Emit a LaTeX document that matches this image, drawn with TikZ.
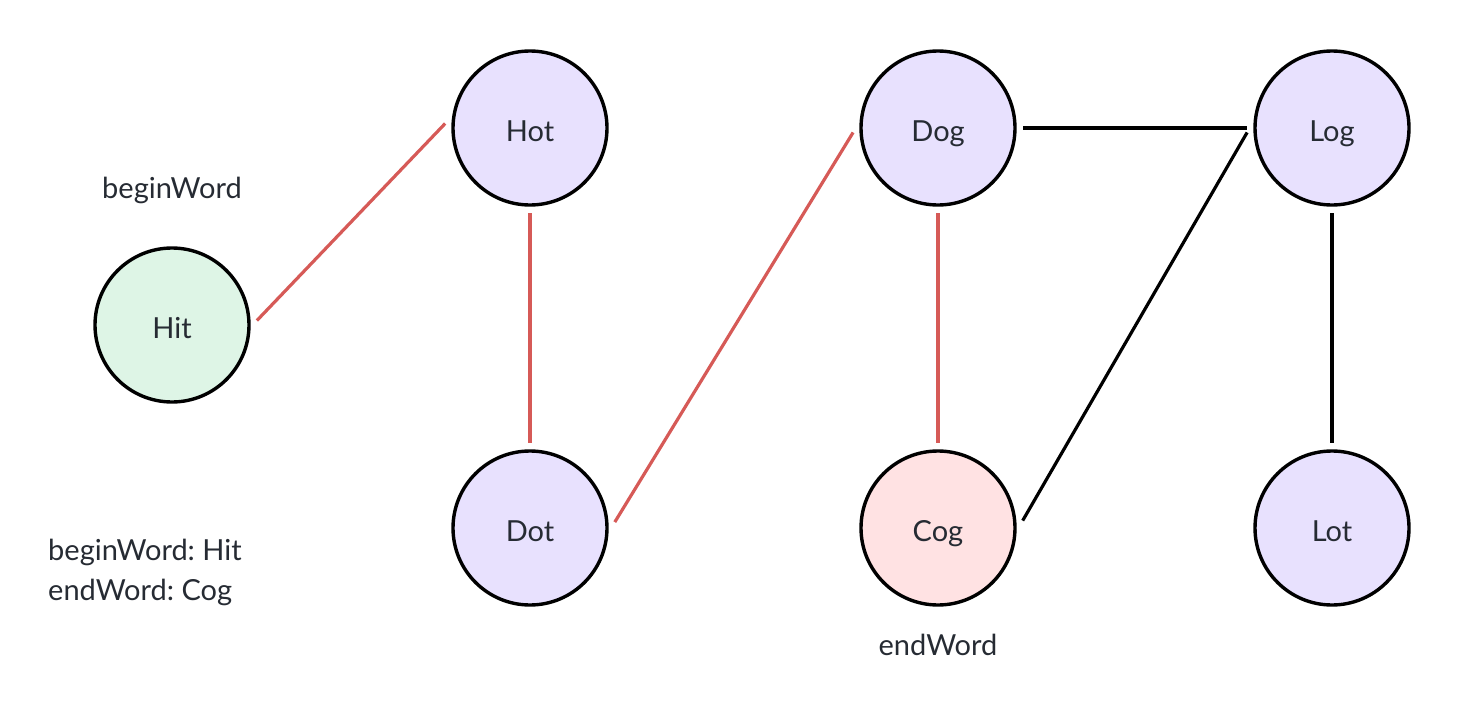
\documentclass[tikz,border=0pt]{standalone}
\usepackage{fontspec}
\setmainfont{Lato}
\definecolor{redline}{HTML}{D65A57}
\definecolor{gfill}{HTML}{DEF5E6}
\definecolor{pfill}{HTML}{E8E1FE}
\definecolor{rfill}{HTML}{FFE2E3}
\definecolor{txt}{HTML}{262B33}
\frenchspacing
\begin{document}
\begin{tikzpicture}[x=1pt,y=-1pt,
  wnode/.style={circle,draw=black,line width=3.4pt,minimum size=154pt,inner sep=0pt,outer sep=8pt,text=txt,text height=26pt,text depth=0pt,font=\fontsize{29}{34}\selectfont},
  redc/.style={draw=redline,line width=3.2pt},
  blkc/.style={draw=black,line width=3.2pt},
  lbl/.style={text=txt,font=\fontsize{29}{34}\selectfont\frenchspacing,inner sep=0pt}]
\useasboundingbox (0,0) rectangle (1462,712);
\node[wnode,fill=gfill] (hit) at (172,325) {Hit};
\node[wnode,fill=pfill] (hot) at (530,128) {Hot};
\node[wnode,fill=pfill] (dot) at (530,528) {Dot};
\node[wnode,fill=pfill] (dog) at (938,128) {Dog};
\node[wnode,fill=rfill] (cog) at (938,528) {Cog};
\node[wnode,fill=pfill] (log) at (1332,128) {Log};
\node[wnode,fill=pfill] (lot) at (1332,528) {Lot};
\node[lbl] (bw) at (172,190) {beginWord};
\node[lbl] (ew) at (938,645) {endWord};
\node[lbl,anchor=base west] (info1) at (48,560) {beginWord: Hit};
\node[lbl,anchor=base west] (info2) at (48,600) {endWord: Cog};
\draw[redc] (hit.3) -- (hot.177);
\draw[redc] (hot.south) -- (dot.north);
\draw[redc] (dot.4) -- (dog.183);
\draw[redc] (dog.south) -- (cog.north);
\draw[blkc] (dog.east) -- (log.west);
\draw[blkc] (log.183) -- (cog.5);
\draw[blkc] (log.south) -- (lot.north);
\end{tikzpicture}
\end{document}
